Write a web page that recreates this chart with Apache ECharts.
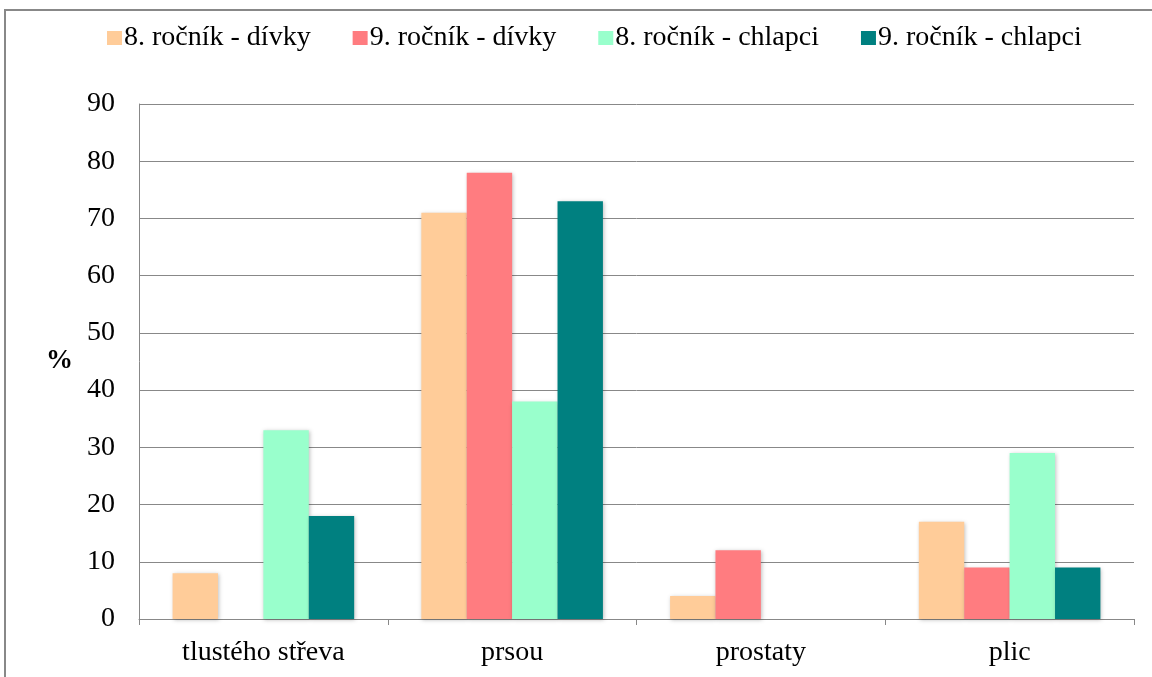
<!DOCTYPE html>
<html><head><meta charset="utf-8">
<script src="https://cdn.jsdelivr.net/npm/echarts@6/dist/echarts.min.js"></script>
<style>html,body{margin:0;padding:0;background:#fff}#c{width:1152px;height:677px}</style>
</head><body><div id="c"></div>
<script>
const categories = ['tlustého střeva', 'prsou', 'prostaty', 'plic'];
const seriesNames = ['8. ročník - dívky', '9. ročník - dívky', '8. ročník - chlapci', '9. ročník - chlapci'];
const girls8 = [8, 71, 4, 17];
const girls9 = [0, 78, 12, 9];
const boys8 = [33, 38, 0, 29];
const boys9 = [18, 73, 0, 9];
const colors = ['#FFCC99', '#FF7C80', '#99FFCC', '#008080'];
const values = [girls8, girls9, boys8, boys9];

const chart = echarts.init(document.getElementById('c'));
const font = '"Liberation Serif", "Times New Roman", serif';
chart.setOption({
  animation: false,
  textStyle: { fontFamily: font },
  graphic: [{
    type: 'polyline', silent: true,
    shape: { points: [[5, 680], [5, 10], [1160, 10]] },
    style: { stroke: '#888', lineWidth: 2, fill: null }
  }],
  legend: {
    top: 19, left: 102, itemWidth: 15, itemHeight: 14, itemGap: 42,
    icon: 'rect',
    textStyle: { fontFamily: font, fontSize: 28, color: '#000', padding: [0, 0, 0, -3] },
    data: seriesNames
  },
  grid: { left: 139, right: 18, top: 104, bottom: 58 },
  xAxis: {
    type: 'category', data: categories,
    axisLine: { lineStyle: { color: '#888', width: 1 } },
    axisTick: { show: true, length: 6, lineStyle: { color: '#888' } },
    axisLabel: { fontFamily: font, fontSize: 28, color: '#000', margin: 20 }
  },
  yAxis: {
    type: 'value', min: 0, max: 90, interval: 10,
    name: '%', nameLocation: 'middle', nameGap: 66, nameRotate: 0,
    nameTextStyle: { fontFamily: font, fontSize: 27, fontWeight: 'bold', color: '#000', padding: [6, 0, 0, 0] },
    axisLine: { show: true, lineStyle: { color: '#888' } },
    axisTick: { show: false },
    splitLine: { lineStyle: { color: '#888', width: 1 } },
    axisLabel: { fontFamily: font, fontSize: 28, color: '#000', margin: 24 }
  },
  series: values.map((v, i) => ({
    name: seriesNames[i], type: 'bar', data: v,
    barGap: '0%', barCategoryGap: '27%',
    itemStyle: { color: colors[i], shadowBlur: 4, shadowColor: 'rgba(0,0,0,0.25)', shadowOffsetX: 1, shadowOffsetY: 1 }
  }))
});
</script></body></html>
